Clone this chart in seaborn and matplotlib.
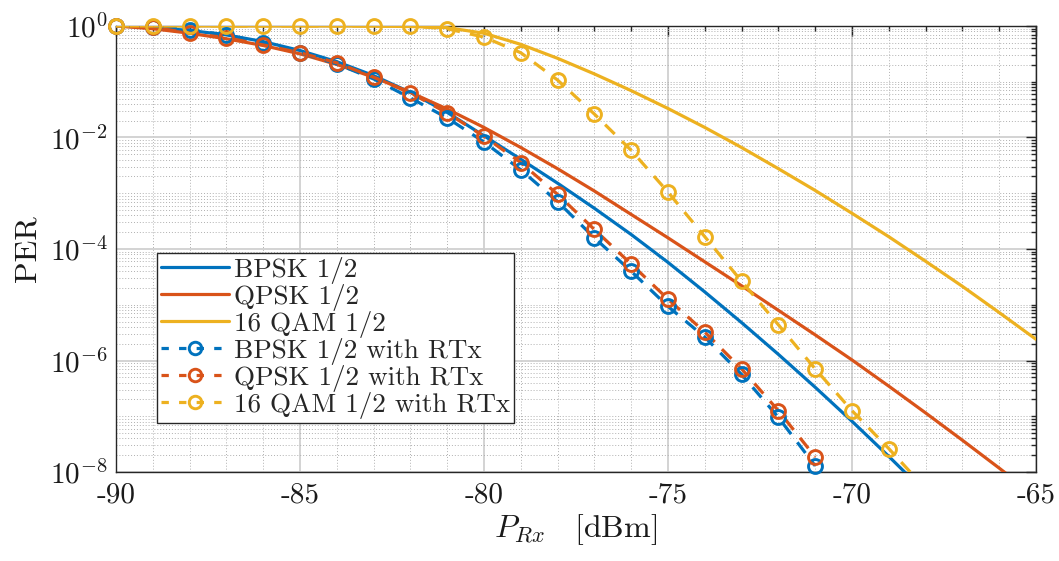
import numpy as np
import pandas as pd
import matplotlib
matplotlib.use("Agg")
import matplotlib.pyplot as plt
from matplotlib.lines import Line2D
from matplotlib.ticker import LogLocator, FixedLocator, NullFormatter
import seaborn as sns

# Received power grid (dBm)
p_rx_solid = [-90, -89, -88, -87, -86, -85, -84, -83, -82, -81, -80, -79, -78,
              -77, -76, -75, -74, -73, -72, -71, -70, -69, -68, -67, -66, -65]

# log10(PER) of the analytical curves
bpsk_log = [0.0, -0.03, -0.08, -0.16, -0.28, -0.44, -0.64, -0.89, -1.19, -1.55,
            -1.97, -2.39, -2.82, -3.27, -3.74, -4.24, -4.77, -5.32, -5.89, -6.48,
            -7.09, -7.72, -8.37, -9.04, -9.73, -10.44]
qpsk_log = [0.0, -0.05, -0.13, -0.23, -0.35, -0.50, -0.69, -0.92, -1.19, -1.49,
            -1.82, -2.18, -2.56, -2.96, -3.38, -3.80, -4.23, -4.66, -5.10, -5.54,
            -5.99, -6.46, -6.94, -7.43, -7.93, -8.44]
qam16_log = [0.0, 0.0, 0.0, 0.0, 0.0, 0.0, 0.0, -0.003, -0.01, -0.03,
             -0.13, -0.33, -0.58, -0.86, -1.16, -1.48, -1.82, -2.18, -2.56, -2.95,
             -3.36, -3.78, -4.22, -4.67, -5.14, -5.62]

# log10(PER) with retransmissions (simulated points)
p_rx_rtx = [-90, -89, -88, -87, -86, -85, -84, -83, -82, -81, -80, -79, -78,
            -77, -76, -75, -74, -73, -72, -71, -70, -69, -68]
bpsk_rtx_log = [0.0, -0.01, -0.07, -0.16, -0.30, -0.48, -0.68, -0.95, -1.29, -1.65,
                -2.08, -2.58, -3.15, -3.80, -4.40, -5.03, -5.58, -6.25, -7.02, -7.89]
qpsk_rtx_log = [0.0, -0.02, -0.13, -0.21, -0.34, -0.48, -0.66, -0.92, -1.20, -1.56,
                -1.98, -2.45, -3.02, -3.65, -4.27, -4.90, -5.49, -6.15, -6.90, -7.73]
qam16_rtx_log = [0.0, 0.0, 0.0, 0.0, 0.0, 0.0, 0.0, 0.0, 0.0, -0.05,
                 -0.20, -0.48, -0.97, -1.58, -2.23, -2.98, -3.78, -4.58, -5.36, -6.15,
                 -6.90, -7.58, -8.30]

labels = ["BPSK 1/2", "QPSK 1/2", "16 QAM 1/2",
          "BPSK 1/2 with RTx", "QPSK 1/2 with RTx", "16 QAM 1/2 with RTx"]
colors = ["#0072BD", "#D95319", "#EDB120"]

x_ticks = [-90, -85, -80, -75, -70, -65]
y_ticks = [1e0, 1e-2, 1e-4, 1e-6, 1e-8]
y_tick_labels = [r"$10^{0}$", r"$10^{-2}$", r"$10^{-4}$", r"$10^{-6}$", r"$10^{-8}$"]

sns.set_theme(style="white")
plt.rcParams["font.family"] = ["cmr10", "DejaVu Serif"]
plt.rcParams["mathtext.fontset"] = "cm"
plt.rcParams["axes.unicode_minus"] = False
plt.rcParams["axes.formatter.use_mathtext"] = True

fig = plt.figure(figsize=(10.59, 5.61), dpi=100)
ax = fig.add_axes([0.1095, 0.1586, 0.8688, 0.7951])
ax.set_yscale("log")

LW = 2.3
solid_sets = [bpsk_log, qpsk_log, qam16_log]
rtx_sets = [bpsk_rtx_log, qpsk_rtx_log, qam16_rtx_log]

for vals, c in zip(solid_sets, colors):
    df = pd.DataFrame({"p": p_rx_solid[:len(vals)], "per": 10.0 ** np.array(vals)})
    sns.lineplot(data=df, x="p", y="per", ax=ax, color=c, linewidth=LW,
                 errorbar=None, estimator=None, zorder=3)

for vals, c in zip(rtx_sets, colors):
    df = pd.DataFrame({"p": p_rx_rtx[:len(vals)], "per": 10.0 ** np.array(vals)})
    sns.lineplot(data=df, x="p", y="per", ax=ax, color=c, linewidth=LW,
                 linestyle=(0, (4.2, 3.2)), errorbar=None, estimator=None, zorder=4)
    inside = df[df["per"] >= 1e-8]
    sns.lineplot(data=inside, x="p", y="per", ax=ax, color=c, linestyle="",
                 marker="o", markersize=10, markerfacecolor="none",
                 markeredgecolor=c, markeredgewidth=2.1, errorbar=None,
                 estimator=None, clip_on=False, zorder=5)

ax.set_xlim(-90, -65)
ax.set_ylim(1e-8, 1.0)

ax.xaxis.set_major_locator(FixedLocator(x_ticks))
ax.set_xticklabels([str(v) for v in x_ticks])
ax.xaxis.set_minor_locator(FixedLocator(np.arange(-90, -64, 1)))
ax.yaxis.set_major_locator(FixedLocator(y_ticks))
ax.set_yticklabels(y_tick_labels)
ax.yaxis.set_minor_locator(LogLocator(base=10, subs=np.arange(1, 10), numticks=100))
ax.yaxis.set_minor_formatter(NullFormatter())

ax.grid(which="major", color="#d0d0d0", linestyle="-", linewidth=1.3, zorder=0)
ax.grid(which="minor", color="#b0b0b0", linestyle=(0, (1, 2)), linewidth=0.7, zorder=0)
ax.set_axisbelow(True)

ax.tick_params(which="both", direction="in", top=True, right=True,
               colors="#262626", width=1.0, labelsize=21, labelcolor="#1a1a1a")
ax.tick_params(which="major", length=7)
ax.tick_params(axis="x", which="major", pad=7)
ax.tick_params(axis="y", which="major", pad=6)
ax.tick_params(which="minor", length=3.5)
for s in ax.spines.values():
    s.set_color("#262626")
    s.set_linewidth(1.0)
    s.set_visible(True)

ax.set_xlabel(r"$P_{Rx}\ \ \ [\mathrm{dBm}]$", fontsize=23, color="#1a1a1a", labelpad=3)
ax.set_ylabel("PER", fontsize=23, color="#1a1a1a", labelpad=6)

handles = [Line2D([], [], color=c, linewidth=LW) for c in colors]
handles += [Line2D([], [], color=c, linewidth=LW, linestyle=(0, (2.3, 3.2)),
                   marker="o", markersize=9, markerfacecolor="none",
                   markeredgecolor=c, markeredgewidth=2.1) for c in colors]
leg = ax.legend(handles, labels, loc="lower left", bbox_to_anchor=(0.045, 0.11),
                fontsize=19.5, frameon=True, fancybox=False, framealpha=1,
                edgecolor="#262626", handlelength=2.5, handletextpad=0.18,
                labelspacing=0.0, borderpad=0.15, borderaxespad=0)
leg.get_frame().set_linewidth(1.0)
leg.set_zorder(10)

fig.savefig("out.png", dpi=100, facecolor="white")
